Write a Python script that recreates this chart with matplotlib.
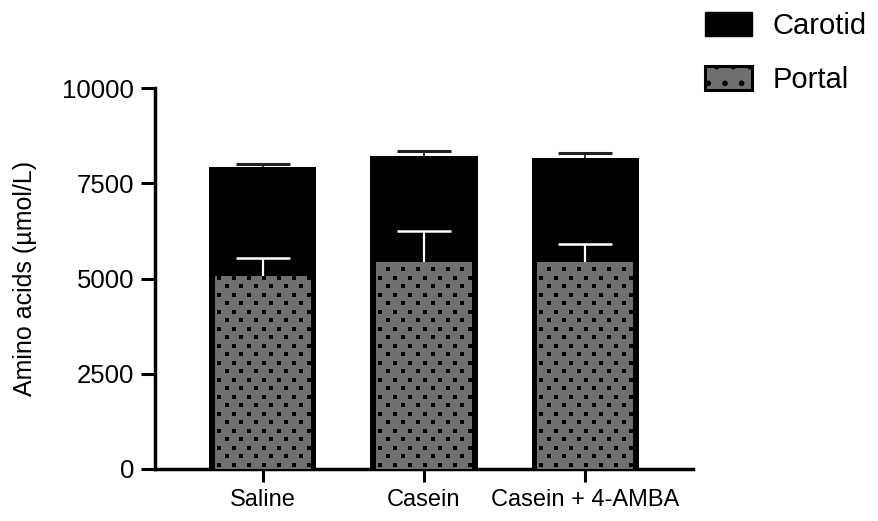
import matplotlib
matplotlib.use('Agg')
import matplotlib.pyplot as plt
import matplotlib.patches as mpatches
import numpy as np

# Amino acid concentrations per treatment group
groups = ['Saline', 'Casein', 'Casein + 4-AMBA']
carotid = [7915, 8215, 8165]
carotid_err = [95, 140, 120]
portal = [5070, 5420, 5430]
portal_err = [470, 835, 470]

plt.rcParams['font.family'] = ['Liberation Sans', 'DejaVu Sans']
plt.rcParams['hatch.linewidth'] = 1.6

fig = plt.figure(figsize=(8.79, 5.21), dpi=100)
ax = fig.add_axes([155 / 879, 1 - 469 / 521, 538 / 879, 381 / 521])

x = np.arange(len(groups))
width = 0.665
cap = 0.17
portal_color = '#707070'

# Carotid bars sit behind, portal bars overlap them from the baseline
ax.bar(x, carotid, width, color='black', linewidth=0, zorder=2)
ax.vlines(x, carotid, np.add(carotid, carotid_err), color='#222222', linewidth=1.3, zorder=3)
ax.hlines(np.add(carotid, carotid_err), x - cap, x + cap, color='#222222', linewidth=2.2, zorder=3)

portal_bars = ax.bar(x, portal, width - 0.07, color=portal_color, linewidth=0, zorder=4)

# dotted fill for the portal bars
dx, dy = 0.093, 223
for bar in portal_bars:
    x0, w, h = bar.get_x(), bar.get_width(), bar.get_height()
    rows = np.arange(dy / 2, h, dy)
    px, py = [], []
    for i, yy in enumerate(rows):
        cols = np.arange(x0 + 0.025 + (dx / 2 if i % 2 else 0), x0 + w, dx)
        px.extend(cols)
        py.extend([yy] * len(cols))
    dots = ax.scatter(px, py, marker='s', s=5.5, color='black', linewidths=0, zorder=5)
    dots.set_clip_path(bar)

ax.vlines(x, portal, np.add(portal, portal_err), color='white', linewidth=1.6, zorder=6)
ax.hlines(np.add(portal, portal_err), x - cap, x + cap, color='white', linewidth=1.8, zorder=6)

ax.set_xlim(-0.67, 2.67)
ax.set_ylim(0, 10000)
ax.set_yticks([0, 2500, 5000, 7500, 10000])
ax.set_xticks(x)
ax.set_xticklabels(groups, fontsize=17)
ax.tick_params(axis='y', labelsize=18.5, length=10, width=2.2, pad=5)
ax.tick_params(axis='x', length=9.5, width=2.2, pad=5)

for side in ['top', 'right']:
    ax.spines[side].set_visible(False)
for side in ['left', 'bottom']:
    ax.spines[side].set_linewidth(2.5)

ax.set_ylabel('Amino acids (µmol/L)', fontsize=18, labelpad=18)

handles = [
    mpatches.Patch(facecolor='black', edgecolor='black', label='Carotid'),
    mpatches.Patch(facecolor=portal_color, edgecolor='black', linewidth=2.2,
                   hatch='.', label='Portal'),
]
fig.legend(handles=handles, loc='upper left', bbox_to_anchor=(705 / 879, 1 - 12 / 521),
           frameon=False, fontsize=21, borderpad=0, borderaxespad=0,
           handlelength=1.6, handleheight=0.89, handletextpad=0.72,
           labelspacing=0.9)

fig.savefig('out.png', dpi=100)
